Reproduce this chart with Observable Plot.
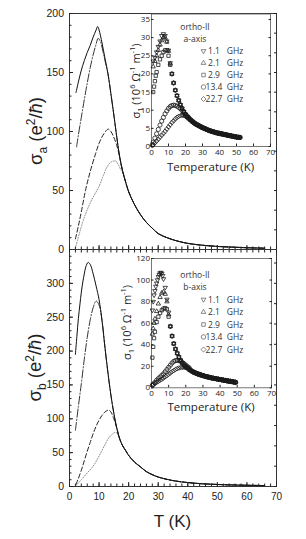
<!DOCTYPE html>
<html><head><meta charset="utf-8">
<script src="https://cdn.jsdelivr.net/npm/d3@7"></script>
<script src="https://cdn.jsdelivr.net/npm/@observablehq/plot@0.6"></script>
<style>
html,body{margin:0;padding:0;background:#fff;}
#fig{position:relative;width:306px;height:539px;overflow:hidden;background:#fff;}
#fig svg{position:absolute;left:0;}
</style></head><body><div id="fig"></div>
<script>
// ---------- main panel (a): sigma_a in e^2/hbar ----------
const aSolidT   = [2.2,3,4,5,6,7,8,9,9.5,10,11,12,13,14,15,16,17];
const aSolidV   = [133,142,152,160,167,173,180,186,189,186,175,162,149,132,114,95,78];
const aDashDotT = [2.4,3,4,5,6,7,8,9,9.7,10.5,11.3,12,13,14,15,16,17];
const aDashDotV = [87,97,112,127,141,154,165,174,179,176,168,160,149,132,114,95,78];
const aDashedT  = [2,3,4,5.4,7,8.8,10,11.6,13.1,14,15,16,17];
const aDashedV  = [9,20,32,50,66,81,90,98,102,100,95,88,78];
const aDottedT  = [2,3.5,5.4,7.5,9.9,11.5,12.7,14,15.6,16.5,17.5];
const aDottedV  = [1,15,30,42,53,63,70,74,75,72,67];
const aTailT    = [18,19,20,22,24,26,28,30,33,36,40,45,50,55,60,66];
const aTailV    = [66,57,49,38,29.5,23,18,13.5,10,7.5,5.2,3.6,2.6,2,1.5,1.1];

// ---------- main panel (b): sigma_b in e^2/hbar ----------
const bSolidT   = [2,2.5,3,3.5,4,4.5,5,5.5,6.3,7,8,9,10,11,12,13,14,15,16,17];
const bSolidV   = [195,222,248,268,287,302,314,324,331,328,314,296,276,245,205,168,135,108,86,70];
const bDashDotT = [2,3,4,5,6,7,8,9,10,11,12,13,14,15,16,17];
const bDashDotV = [83,118,152,188,220,246,264,274,268,245,205,168,135,108,86,70];
const bDashedT  = [2.2,3,4,5,6,7,8,9,10,11,12,13.2,14,15,16,17];
const bDashedV  = [3,12,24,38,52,65,78,89,98,105,110,113,110,100,86,70];
const bDottedT  = [2.2,4,6,8,10,12,13.5,15.6,16.5,17.5];
const bDottedV  = [1.5,10,20,30,45,62,73,80,76,64];
const bTailT    = [18,19,20,22,24,26,28,30,33,36,40,45,50,55,60,66];
const bTailV    = [60,53,46,36,29,22,17.5,14,10.5,8,5.8,4,3,2.3,1.8,1.4];

// ---------- inset (a-axis): sigma_1 in 10^6 / (Ohm m) ----------
const freqLabels = ["1.1", "2.1", "2.9", "13.4", "22.7"];
const ia11T = [1,2,3,4,5,6,7,8,9,10,11];
const ia11V = [23.5,24.5,26,27.5,29,30.5,31,30.5,29,26.5,23];
const ia21T = [1,2,3,4,5,6,7,8,9,10,11];
const ia21V = [22,23.5,25,26.5,28,29.2,30,30,28.8,26.3,22.8];
const ia29T = [1,1.5,2,2.5,3,4,5,6,7,8,9,10,11];
const ia29V = [15,16.5,18,19.5,20.5,22.5,24,25,26,26.5,26.5,25,22.5];
const iaBandT = [12,13,14,15,16,17,18,19,20,21,22];
const iaBandV = [20,17.5,15.5,14,12.7,11.5,10.5,9.6,8.8,8.2,7.7];
const ia134T = [0.5,1,2,3,4,5,6,7,8,9,10,11,12,13,14,15,16,17,18,19,20,21,22];
const ia134V = [0.5,1.2,2.3,3.5,4.7,5.9,7,8,9,9.8,10.5,11,11.3,11.4,11.3,11.1,10.8,10.4,9.9,9.4,8.9,8.4,7.9];
const ia227T = [0.5,1,2,3,4,5,6,7,8,9,10,11,12,13,14,15,16,17,18,19,20,21,22];
const ia227V = [0.2,0.5,1,1.5,2,2.6,3.1,3.6,4.2,4.8,5.4,6,6.6,7.1,7.6,8,8.3,8.5,8.6,8.5,8.3,8.1,7.8];
const iaTailT = [23,24,25,26,27,28,29,30,31,32,33,34,35,36,37,38,39,40,41,42,43,44,45,46,47,48,49,50,51,52];
const iaTailV = [7.3,6.9,6.55,6.2,5.95,5.7,5.45,5.2,5,4.8,4.6,4.4,4.25,4.1,3.95,3.8,3.7,3.6,3.5,3.4,3.3,3.2,3.1,3,2.9,2.8,2.7,2.6,2.55,2.5];

// ---------- inset (b-axis) ----------
const ib11T = [0.5,1,1.5,2,2.5,3,3.5,4,4.5,5,5.5,6,6.5,7,8,9,10];
const ib11V = [72,80,86,90,94,97,100,103,105,106.5,107,106,104,101,93,82,70];
const ib21T = [0.5,1,1.5,2,3,4,5,6,7,8,9,10];
const ib21V = [50,55,60,64,71,78,84,88,89,87,80,68];
const ib29T = [0.5,1,1.5,2,3,4,5,6,7,8,9,10];
const ib29V = [28,38,46,52,61,66,69.5,72,73.5,74,73,66];
const ibBandT = [11,12,13,14,15,16,17,18,19,20,21,22];
const ibBandV = [57,48,41,36,32,28.5,25.5,23,21,19.5,18.2,17];
const ib134T = [0.5,1,2,3,4,5,6,7,8,9,10,11,12,13,14,15,16,17,18,19,20,21,22];
const ib134V = [2.5,3.5,5,7,8.5,10,11.5,13,15,17,19,21,23,24.5,25.3,25.5,25.2,24.5,23.5,22.3,21,19.7,18.5];
const ib227T = [0.5,1,2,3,4,5,6,7,8,9,10,11,12,13,14,15,16,17,18,19,20,21,22];
const ib227V = [2,2.8,4,5,6,7,8,9,10.2,11.4,12.6,13.8,15,16,17,17.8,18.4,18.8,19,19,18.8,18.5,18];
const ibTailT = [23,24,25,26,27,28,29,30,31,32,33,34,35,36,37,38,39,40,41,42,43,44,45,46,47,48,49];
const ibTailV = [16,15,14.2,13.5,12.9,12.3,11.8,11.3,10.8,10.4,10,9.6,9.2,8.9,8.6,8.3,8,7.7,7.4,7.1,6.8,6.5,6.2,6,5.7,5.4,5.1];

// ---------- ticks ----------
const xMajor = [0,10,20,30,40,50,60,70];
const yMajorA = [0,50,100,150,200];
const yMajorB = [0,50,100,150,200,250,300];
const insetX = [0,10,20,30,40,50,60,70];
const insetYA = [0,5,10,15,20,25,30,35];
const insetYB = [0,20,40,60,80,100,120];

const rows = (T, V) => T.map((t, i) => ({T: t, v: V[i]}));
const cat = (...arrs) => [].concat(...arrs);

const triDown = {draw(ctx, size) {
  const s = Math.sqrt(size) * 0.6824, t = s / 2, u = s * Math.sqrt(3) / 2;
  ctx.moveTo(0, s); ctx.lineTo(u, -t); ctx.lineTo(-u, -t); ctx.closePath();
}};
const SYMS = [triDown, d3.symbolTriangle2, d3.symbolSquare2, d3.symbolCircle, d3.symbolDiamond2];

const fig = d3.select("#fig");
const MAINFONT = "'Liberation Sans', Arial, sans-serif";
const INSETFONT = "'Open Sans', sans-serif";

function mainPanel(o) {
  const line = (T, V, style) => Plot.line(rows(T, V), {x: "T", y: "v", curve: "catmull-rom", strokeWidth: 1, ...style});
  const svg = Plot.plot({
    width: 306, height: o.height, marginTop: o.mt, marginBottom: o.mb, marginLeft: 69, marginRight: 30,
    style: {background: "transparent", fontFamily: MAINFONT, fontSize: "10.5px", color: "#222", overflow: "visible"},
    x: {domain: [0, 70]}, y: {domain: [0, o.yMax]},
    marks: [
      line(cat(o.dotT, o.tailT), cat(o.dotV, o.tailV), {stroke: "#8a8a8a", strokeDasharray: "1,1.6"}),
      line(cat(o.dashT, o.tailT), cat(o.dashV, o.tailV), {stroke: "#222", strokeDasharray: "4.5,2.5"}),
      line(cat(o.ddT, o.tailT), cat(o.ddV, o.tailV), {stroke: "#333", strokeDasharray: "8,2,1.2,2"}),
      line(cat(o.solT, o.tailT), cat(o.solV, o.tailV), {stroke: "#111"}),
      Plot.frame({stroke: "#333", strokeWidth: 1}),
      Plot.axisX(d3.range(0, 71, 2), {anchor: "bottom", tickSize: -2.5, tickFormat: () => "", label: null}),
      Plot.axisX(xMajor, {anchor: "bottom", tickSize: -4, tickPadding: 10, fontSize: "10px", tickFormat: o.xLabels ? (d => d) : () => "", label: null}),
      o.topTicks ? Plot.axisX(d3.range(0, 71, 2), {anchor: "top", tickSize: -2.5, tickFormat: () => "", label: null}) : null,
      Plot.axisY(d3.range(0, o.yMax + 1, 10), {anchor: "left", tickSize: -2.5, tickFormat: () => "", label: null}),
      Plot.axisY(o.yMajor, {anchor: "left", tickSize: -4, tickPadding: 9.5, label: null}),
      Plot.axisY(o.rightTicks, {anchor: "right", tickSize: -3, tickFormat: () => "", label: null})
    ]
  });
  const s = d3.select(svg).style("top", o.top + "px");
  const t = s.append("text").attr("transform", `translate(${o.lx},${o.ly}) rotate(-90)`)
    .attr("text-anchor", "middle").attr("font-family", MAINFONT).attr("font-size", 18.5).attr("fill", "#222");
  t.append("tspan").text("σ");
  t.append("tspan").attr("font-size", 12).attr("dy", 4.5).text(o.sub);
  t.append("tspan").attr("dy", -4.5).text(" (e");
  t.append("tspan").attr("font-size", 12).attr("dy", -7.5).text("2");
  t.append("tspan").attr("dy", 7.5).text("/");
  t.append("tspan").attr("font-style", "italic").text("ħ");
  t.append("tspan").text(")");
  if (o.xLabels) {
    s.append("text").attr("x", 172.5).attr("y", o.xly).attr("text-anchor", "middle")
      .attr("font-family", MAINFONT).attr("font-size", 17).attr("fill", "#222").text("T (K)");
  }
  fig.node().appendChild(svg);
}

function insetPanel(o) {
  const dots = o.series.map((sr, i) => Plot.dot(rows(sr[0], sr[1]), {
    x: "T", y: "v", symbol: SYMS[i], r: 2.1, stroke: "#1a1a1a", strokeWidth: 0.8, fill: "none"
  }));
  const svg = Plot.plot({
    width: 306, height: o.height, marginTop: o.mt, marginBottom: o.mb, marginLeft: 151, marginRight: o.mr,
    style: {background: "transparent", fontFamily: INSETFONT, fontSize: "8px", color: "#222", overflow: "visible"},
    x: {domain: [0, 70]}, y: {domain: [0, o.yMax]},
    marks: [
      Plot.frame({stroke: "#555", strokeWidth: 0.8}),
      Plot.axisX(insetX, {anchor: "bottom", tickSize: -2.5, tickPadding: 5.5, label: null}),
      Plot.axisY(o.yTicks, {anchor: "left", tickSize: -2.5, tickPadding: 4, label: null}),
      Plot.axisY(o.yTicks, {anchor: "right", tickSize: -2.5, tickFormat: () => "", label: null}),
      ...dots
    ]
  });
  const s = d3.select(svg).style("top", o.top + "px");
  s.append("text").attr("x", o.tx).attr("y", o.ty).attr("text-anchor", "middle")
    .attr("font-family", INSETFONT).attr("font-size", 11.5).attr("fill", "#222").text("Temperature (K)");
  const t = s.append("text").attr("transform", `translate(${o.lx},${o.ly}) rotate(-90)`)
    .attr("text-anchor", "middle").attr("font-family", INSETFONT).attr("font-size", 11).attr("fill", "#222");
  t.append("tspan").text("σ");
  t.append("tspan").attr("font-size", 7.5).attr("dy", 3).text("1");
  t.append("tspan").attr("dy", -3).text(" (10");
  t.append("tspan").attr("font-size", 7.5).attr("dy", -5).text("6");
  t.append("tspan").attr("dy", 5).text(" Ω");
  t.append("tspan").attr("font-size", 7.5).attr("dy", -5).text("-1");
  t.append("tspan").attr("dy", 5).text(" m");
  t.append("tspan").attr("font-size", 7.5).attr("dy", -5).text("-1");
  t.append("tspan").attr("dy", 5).text(")");
  // legend
  const g = s.append("g").attr("font-family", INSETFONT).attr("font-size", 8.5).attr("fill", "#333");
  g.append("text").attr("x", 195).attr("y", o.legY0).text("ortho-II");
  g.append("text").attr("x", 195).attr("y", o.legY0 + o.legDy).text(o.axisName);
  freqLabels.forEach((f, i) => {
    const y = o.legY0 + o.legDy * (i + 2);
    g.append("path").attr("d", d3.symbol(SYMS[i], 16)()).attr("transform", `translate(203.5,${y - 3})`)
      .attr("fill", "none").attr("stroke", "#555").attr("stroke-width", 0.7);
    g.append("text").attr("x", 214).attr("y", y).text(f);
    g.append("text").attr("x", 235).attr("y", y).text("GHz");
  });
  fig.node().appendChild(svg);
}

mainPanel({top: 0, height: 252, mt: 13, mb: 3, yMax: 200, yMajor: yMajorA,
  rightTicks: d3.range(0, 201, 50 / 3), topTicks: false, xLabels: false,
  solT: aSolidT, solV: aSolidV, ddT: aDashDotT, ddV: aDashDotV, dashT: aDashedT, dashV: aDashedV,
  dotT: aDottedT, dotV: aDottedV, tailT: aTailT, tailV: aTailV, sub: "a", lx: 42, ly: 131});
mainPanel({top: 240, height: 299, mt: 9, mb: 53, yMax: 350, yMajor: yMajorB,
  rightTicks: d3.range(0, 351, 30), topTicks: true, xLabels: true, xly: 287,
  solT: bSolidT, solV: bSolidV, ddT: bDashDotT, ddV: bDashDotV, dashT: bDashedT, dashV: bDashedV,
  dotT: bDottedT, dotV: bDottedV, tailT: bTailT, tailV: bTailV, sub: "b", lx: 41, ly: 127.5});

insetPanel({top: 0, height: 180, mt: 13.5, mb: 34, mr: 36, yMax: 36.5, yTicks: insetYA,
  series: [[cat(ia11T, iaBandT, iaTailT), cat(ia11V, iaBandV, iaTailV)],
           [cat(ia21T, iaBandT, iaTailT), cat(ia21V, iaBandV, iaTailV)],
           [cat(ia29T, iaBandT, iaTailT), cat(ia29V, iaBandV, iaTailV)],
           [cat(ia134T, iaTailT), cat(ia134V, iaTailV)],
           [cat(ia227T, iaTailT), cat(ia227V, iaTailV)]],
  tx: 210.5, ty: 170.5, lx: 140, ly: 81, legY0: 30, legDy: 12, axisName: "a-axis"});
insetPanel({top: 240, height: 180, mt: 18, mb: 32.7, mr: 35, yMax: 120, yTicks: insetYB,
  series: [[cat(ib11T, ibBandT, ibTailT), cat(ib11V, ibBandV, ibTailV)],
           [cat(ib21T, ibBandT, ibTailT), cat(ib21V, ibBandV, ibTailV)],
           [cat(ib29T, ibBandT, ibTailT), cat(ib29V, ibBandV, ibTailV)],
           [cat(ib134T, ibTailT), cat(ib134V, ibTailV)],
           [cat(ib227T, ibTailT), cat(ib227V, ibTailV)]],
  tx: 211, ty: 170.5, lx: 131, ly: 82.5, legY0: 37.5, legDy: 12.5, axisName: "b-axis"});
</script></body></html>
